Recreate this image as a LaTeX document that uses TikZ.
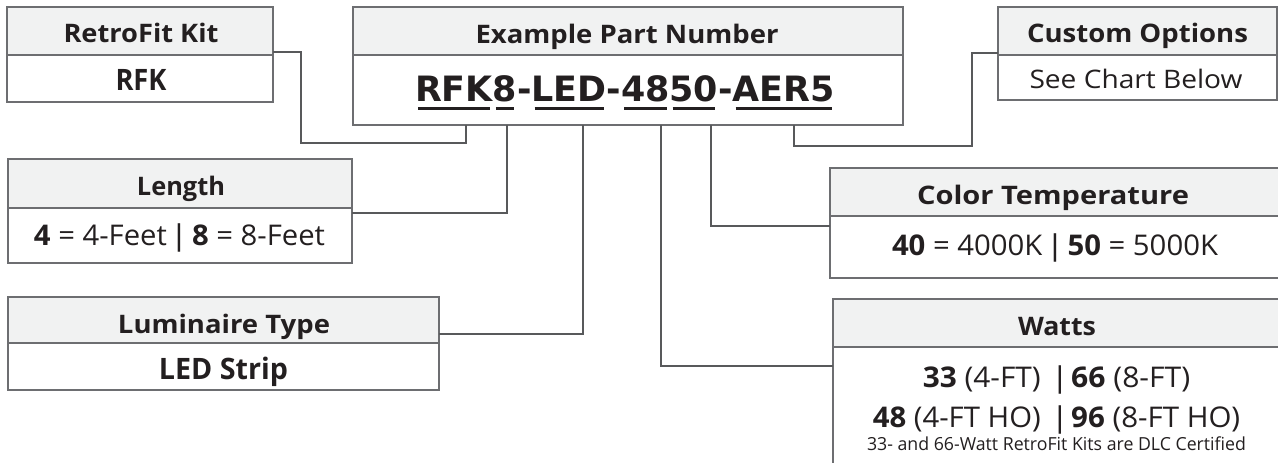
\documentclass[tikz,border=0pt]{standalone}
\usepackage{fontspec}
\usepackage{graphicx}
\setmainfont{Open Sans}
\newfontfamily\pnfont{DejaVu Sans}
\newfontfamily\barfont{DejaVu Sans}
\newcommand\vb{{\barfont\mdseries|}}
\definecolor{ink}{HTML}{231F20}
\definecolor{edgec}{HTML}{6D6E71}
\definecolor{wirec}{HTML}{58595B}
\definecolor{hfill}{HTML}{F1F2F2}
\newcommand\fitw[2]{\resizebox{#1}{\height}{#2}}
\tikzset{
  hbox/.style={draw=edgec, fill=hfill, line width=1.3pt, inner sep=0pt, outer sep=0pt, anchor=north west},
  bbox/.style={draw=edgec, fill=white, line width=1.3pt, inner sep=0pt, outer sep=0pt, anchor=north west},
  htxt/.style={text=ink, inner sep=0pt, anchor=base, font=\bfseries\fontsize{25.5}{30}\selectfont},
  btxt/.style={text=ink, inner sep=0pt, anchor=base, font=\fontsize{28.5}{30}\selectfont},
  stxt/.style={text=ink, inner sep=0pt, anchor=base, font=\fontsize{25.5}{30}\selectfont},
  bbtxt/.style={text=ink, inner sep=0pt, anchor=base, font=\bfseries\fontsize{29.5}{30}\selectfont},
  wtxt/.style={text=ink, inner sep=0pt, anchor=base, font=\fontsize{28.5}{30}\selectfont},
  smalltxt/.style={text=ink, inner sep=0pt, anchor=base, font=\fontsize{18}{22}\selectfont},
  wire/.style={draw=wirec, line width=1.5pt},
  pn/.style={text=ink, inner sep=0pt, outer sep=0pt, anchor=base west, font=\pnfont\bfseries\fontsize{34.9}{40}\selectfont},
  ul/.style={draw=ink, line width=2.7pt}
}
\begin{document}
\begin{tikzpicture}[x=1pt,y=-1pt]
\useasboundingbox (0,0) rectangle (1278,463);
\clip (0,0) rectangle (1278,463);
\fill[white] (0,0) rectangle (1278,463);

% boxes
\node[hbox, minimum width=266pt, minimum height=48pt] (rfkH) at (7,7) {};
\node[bbox, minimum width=266pt, minimum height=47pt] (rfkB) at (rfkH.south west) {};
\node[hbox, minimum width=550pt, minimum height=48pt] (parH) at (353,7) {};
\node[bbox, minimum width=550pt, minimum height=70pt] (parB) at (parH.south west) {};
\node[hbox, minimum width=279pt, minimum height=48pt] (cusH) at (998,7) {};
\node[bbox, minimum width=279pt, minimum height=45pt] (cusB) at (cusH.south west) {};
\node[hbox, minimum width=344pt, minimum height=49pt] (lenH) at (8,159) {};
\node[bbox, minimum width=344pt, minimum height=55pt] (lenB) at (lenH.south west) {};
\node[hbox, minimum width=431pt, minimum height=46pt] (lumH) at (8,297) {};
\node[bbox, minimum width=431pt, minimum height=47pt] (lumB) at (lumH.south west) {};
\node[hbox, minimum width=452pt, minimum height=48pt] (colH) at (830,168) {};
\node[bbox, minimum width=452pt, minimum height=62pt] (colB) at (colH.south west) {};
\node[hbox, minimum width=449pt, minimum height=48pt] (watH) at (833,299) {};
\node[bbox, minimum width=449pt, minimum height=140pt] (watB) at (watH.south west) {};

% connector feet on the part number box
\coordinate (p1) at ([xshift=113pt]parB.south west);
\coordinate (p2) at ([xshift=154pt]parB.south west);
\coordinate (p3) at ([xshift=230pt]parB.south west);
\coordinate (p4) at ([xshift=308pt]parB.south west);
\coordinate (p5) at ([xshift=358pt]parB.south west);
\coordinate (p6) at ([xshift=441pt]parB.south west);

\draw[wire] ([yshift=3pt]rfkH.south east) -- ++(28,0) |- ([yshift=-18pt]p1) -- (p1);
\draw[wire] (p2) |- ([yshift=-5pt]lenB.north east);
\draw[wire] (p3) |- ([yshift=9pt]lumB.north east);
\draw[wire] (p4) |- ([yshift=-19pt]watB.north west);
\draw[wire] (p5) |- ([yshift=-10pt]colB.north west);
\draw[wire] (p6) -- ++(0,21) -| ([xshift=-26pt,yshift=2pt]cusH.south west) -- ([yshift=2pt]cusH.south west);

% texts
\node[htxt] (rfkHt) at (141,42) {\fitw{155pt}{RetroFit Kit}};
\node[bbtxt] (rfkBt) at (141,90) {\fitw{51pt}{RFK}};
\node[htxt] (parHt) at (627,43) {\fitw{303pt}{Example Part Number}};
\node[htxt] (cusHt) at (1137.5,42) {\fitw{221pt}{Custom Options}};
\node[stxt] (cusBt) at (1136,88) {\fitw{213pt}{See Chart Below}};
\node[htxt] (lenHt) at (181,195) {\fitw{88pt}{Length}};
\node[btxt] (lenBt) at (179.5,245) {\fitw{291pt}{\textbf{4} = 4-Feet \vb{} \textbf{8} = 8-Feet}};
\node[htxt] (lumHt) at (224,333) {\fitw{212pt}{Luminaire Type}};
\node[bbtxt] (lumBt) at (223.5,379) {\fitw{129pt}{LED Strip}};
\node[htxt] (colHt) at (1053,204) {\fitw{272pt}{Color Temperature}};
\node[btxt] (colBt) at (1055,255) {\fitw{326pt}{\textbf{40} = 4000K \vb{} \textbf{50} = 5000K}};
\node[htxt] (watHt) at (1057,335) {\fitw{78pt}{Watts}};
\node[wtxt, anchor=base east] (w1a) at (1041,387) {\fitw{118pt}{\textbf{33} (4-FT)}};
\node[wtxt] (w1b) at (1060,387) {\vb};
\node[wtxt, anchor=base west] (w1c) at (1071,387) {\fitw{119pt}{\textbf{66} (8-FT)}};
\node[wtxt, anchor=base east] (w2a) at (1041,427) {\fitw{168pt}{\textbf{48} (4-FT HO)}};
\node[wtxt] (w2b) at (1060,427) {\vb};
\node[wtxt, anchor=base west] (w2c) at (1071,427) {\fitw{169pt}{\textbf{96} (8-FT HO)}};
\node[smalltxt] (w3) at (1056.5,450) {\fitw{379pt}{33- and 66-Watt RetroFit Kits are DLC Certified}};

% part number
\node[pn] (s1) at (415,101) {RFK};
\node[pn] (s2) at (s1.base east) {8};
\node[pn] (s3) at (s2.base east) {-};
\node[pn] (s4) at (s3.base east) {LED};
\node[pn] (s5) at (s4.base east) {-};
\node[pn] (s6) at (s5.base east) {48};
\node[pn] (s7) at (s6.base east) {50};
\node[pn] (s8) at (s7.base east) {-};
\node[pn] (s9) at (s8.base east) {AER5};
\foreach \s in {s1,s2,s4,s6,s7,s9}{
  \draw[ul] ([xshift=3pt,yshift=-7.5pt]\s.base west) -- ([xshift=-3pt,yshift=-7.5pt]\s.base east);
}
\end{tikzpicture}
\end{document}
